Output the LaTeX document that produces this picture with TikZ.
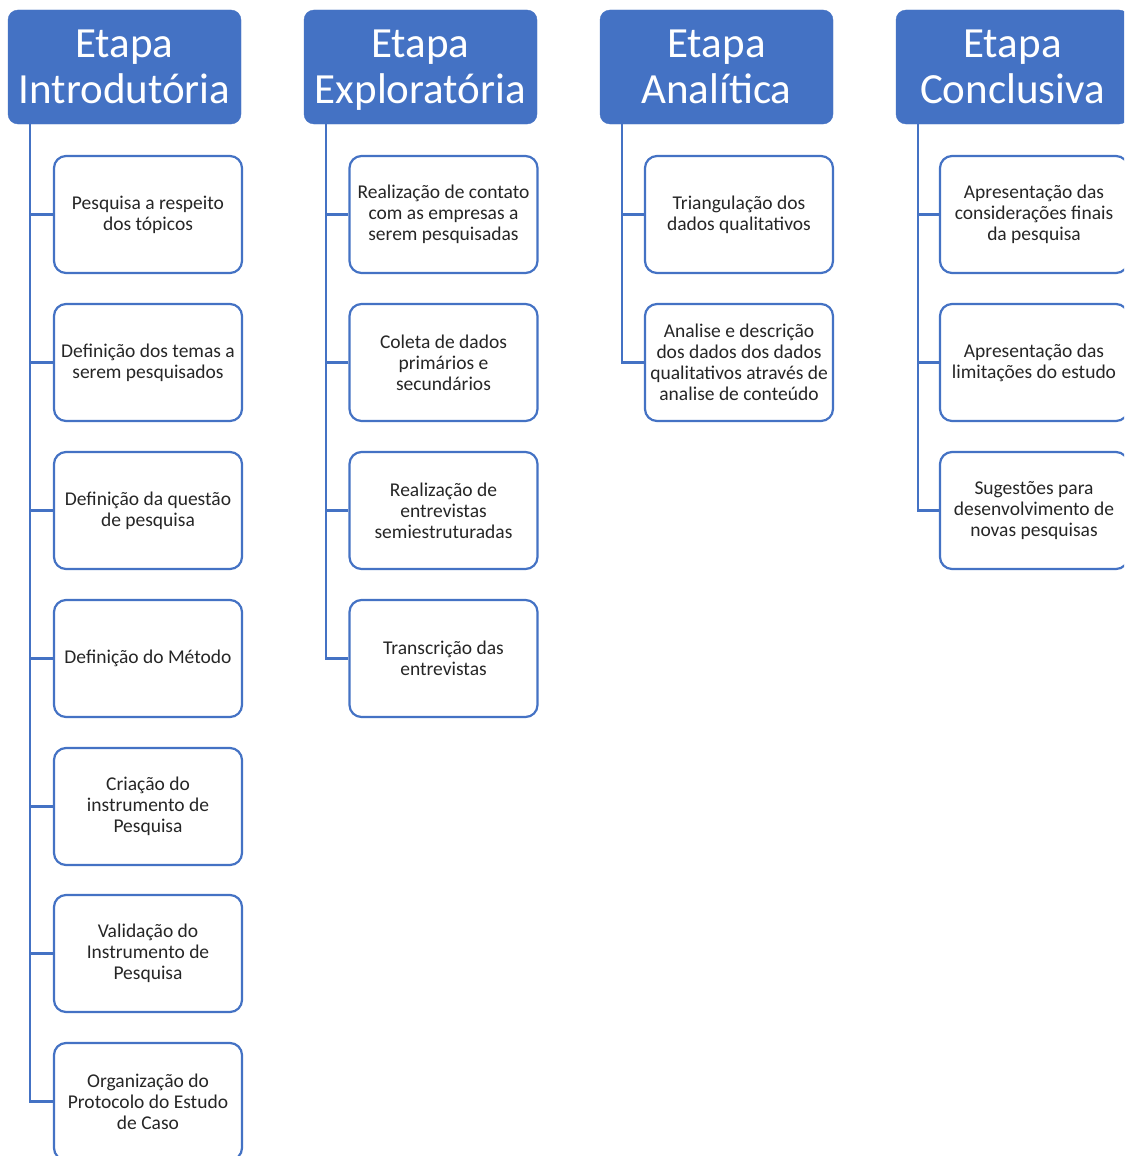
\documentclass[tikz,border=0pt]{standalone}
\usepackage{fontspec}
\setmainfont{Carlito}
\definecolor{blu}{HTML}{4472C4}
\definecolor{txt}{HTML}{262626}
\newcommand{\hdrtxt}[1]{\rule{0pt}{34pt}Etapa\\#1\vphantom{p}}
\begin{document}
\begin{tikzpicture}[x=1pt,y=-1pt,
  hdr/.style={rectangle, rounded corners=10pt, fill=blu, draw=blu, text=white,
    minimum width=233pt, minimum height=114pt, inner sep=0pt, align=center,
    font=\fontsize{43}{46}\selectfont},
  item/.style={rectangle, rounded corners=12pt, draw=blu, line width=2.2pt, fill=white,
    minimum width=188pt, minimum height=117pt, inner sep=0pt, align=center, text=txt,
    font=\fontsize{19.5}{21}\selectfont},
  conn/.style={draw=blu, line width=2.4pt}]
\useasboundingbox (0,0) rectangle (1124,1156);
\clip (0,0) rectangle (1124,1156);
\fill[white] (0,0) rectangle (1124,1156);

% headers
\node[hdr] (h1) at (124.5,67) {\hdrtxt{Introdutória}};
\node[hdr] (h2) at (420.5,67) {\hdrtxt{Exploratória}};
\node[hdr] (h3) at (716.5,67) {\hdrtxt{Analítica}};
\node[hdr] (h4) at (1012.5,67) {\hdrtxt{Conclusiva}};

% line anchors
\coordinate (l1) at (30,124);
\coordinate (l2) at (326,124);
\coordinate (l3) at (622,124);
\coordinate (l4) at (918,124);

% column 1
\node[item] (a1) at (148,214.5) {Pesquisa a respeito\\dos tópicos};
\node[item] (a2) at (148,362.5) {Definição dos temas a\\serem pesquisados};
\node[item] (a3) at (148,510.5) {Definição da questão\\de pesquisa};
\node[item] (a4) at (148,658.5) {Definição do Método};
\node[item] (a5) at (148,806.5) {Criação do\\instrumento de\\Pesquisa};
\node[item] (a6) at (148,953.5) {Validação do\\Instrumento de\\Pesquisa};
\node[item] (a7) at (148,1101.5) {Organização do\\Protocolo do Estudo\\de Caso};

% column 2
\node[item] (b1) at (443.5,214.5) {Realização de contato\\com as empresas a\\serem pesquisadas};
\node[item] (b2) at (443.5,362.5) {Coleta de dados\\primários e\\secundários};
\node[item] (b3) at (443.5,510.5) {Realização de\\entrevistas\\semiestruturadas};
\node[item] (b4) at (443.5,658.5) {Transcrição das\\entrevistas};

% column 3
\node[item] (c1) at (739,214.5) {Triangulação dos\\dados qualitativos};
\node[item] (c2) at (739,362.5) {Analise e descrição\\dos dados dos dados\\qualitativos através de\\analise de conteúdo};

% column 4
\node[item] (d1) at (1034,214.5) {Apresentação das\\considerações finais\\da pesquisa};
\node[item] (d2) at (1034,362.5) {Apresentação das\\limitações do estudo};
\node[item] (d3) at (1034,510.5) {Sugestões para\\desenvolvimento de\\novas pesquisas};

% connectors
\foreach \n in {a1,a2,a3,a4,a5,a6,a7} \draw[conn] (l1) |- (\n.west);
\foreach \n in {b1,b2,b3,b4} \draw[conn] (l2) |- (\n.west);
\foreach \n in {c1,c2} \draw[conn] (l3) |- (\n.west);
\foreach \n in {d1,d2,d3} \draw[conn] (l4) |- (\n.west);
\end{tikzpicture}
\end{document}
